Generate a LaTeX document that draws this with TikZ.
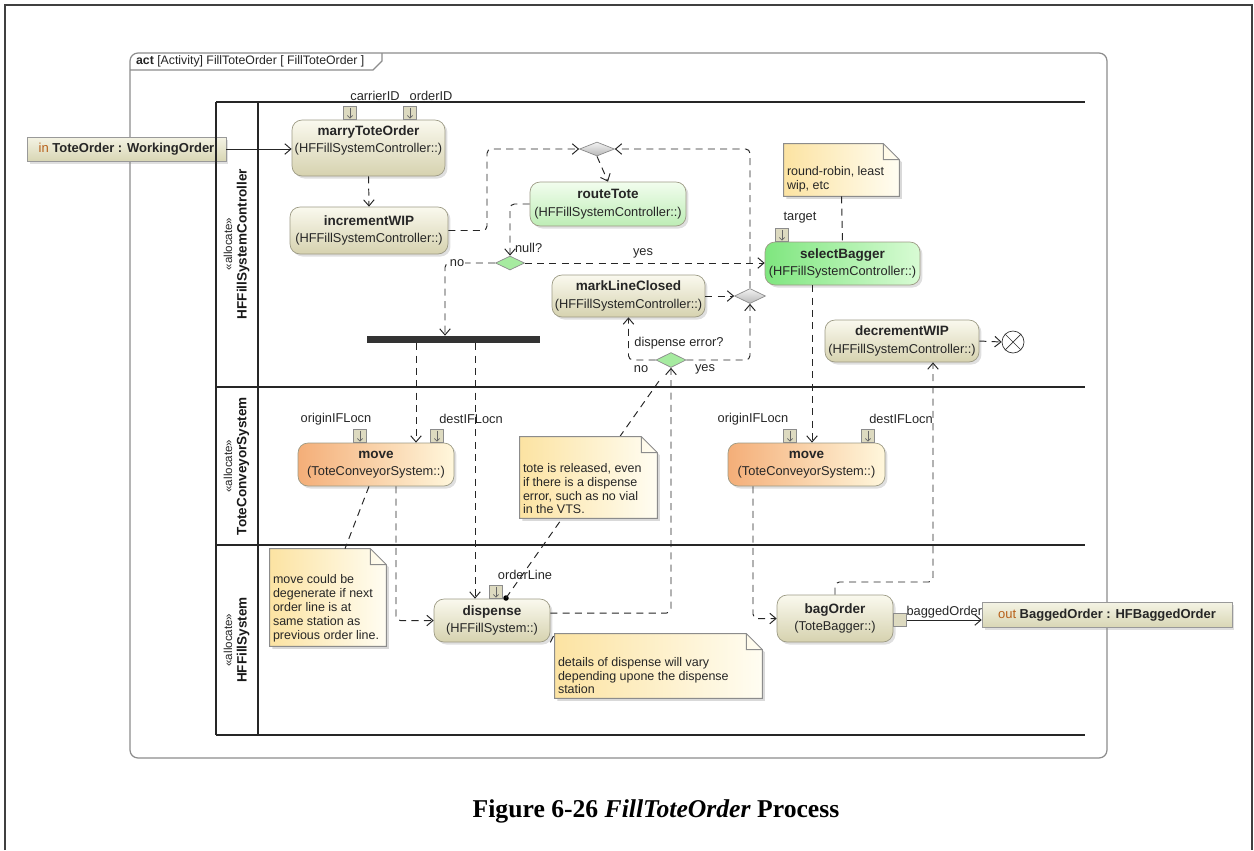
\documentclass[tikz,border=0pt]{standalone}
\usepackage{fontspec}
\setmainfont{Liberation Sans}
\newfontfamily\capfont{Liberation Serif}
\usetikzlibrary{shapes.geometric,arrows.meta,shadows}

\definecolor{actTop}{HTML}{FAF9EE}
\definecolor{actBot}{HTML}{D6D2AF}
\definecolor{actLine}{HTML}{9C9A84}
\definecolor{greenTop}{HTML}{F2FDEE}
\definecolor{greenBot}{HTML}{BDEDB5}
\definecolor{selL}{HTML}{7FE67F}
\definecolor{selR}{HTML}{D8FBD4}
\definecolor{moveL}{HTML}{F4AE78}
\definecolor{moveR}{HTML}{FFF7DC}
\definecolor{noteL}{HTML}{FCE3A2}
\definecolor{noteR}{HTML}{FFFDF2}
\definecolor{decFill}{HTML}{A6EBA0}
\definecolor{pinFill}{HTML}{DDDAC0}
\definecolor{inBrown}{HTML}{B8601A}
\definecolor{paramTop}{HTML}{F4F3E4}
\definecolor{paramBot}{HTML}{D8D6B4}

\newcommand\dfont{\fontsize{7.3}{10}\selectfont}
\newcommand\nfont{\fontsize{7.1}{7.9}\selectfont}
\newcommand\nm[1]{{\fontsize{7.7}{10}\selectfont\bfseries #1}}

\tikzset{
  action/.style={draw=actLine, rounded corners=0.2cm, align=center, inner sep=1pt,
    top color=actTop, bottom color=actBot, font=\dfont, text=black!85,
    drop shadow={shadow xshift=0.05cm, shadow yshift=-0.05cm, opacity=0.25}},
  greenact/.style={action, top color=greenTop, bottom color=greenBot},
  selact/.style={action, left color=selL, right color=selR},
  moveact/.style={action, left color=moveL, right color=moveR},
  param/.style={draw=black!40, top color=paramTop, bottom color=paramBot, inner sep=1pt,
    font=\fontsize{7.4}{9}\selectfont, text=black!85,
    drop shadow={shadow xshift=0.05cm, shadow yshift=-0.05cm, opacity=0.25}},
  ipin/.style={draw=black!45, fill=pinFill, minimum size=0.26cm, inner sep=0},
  pinarr/.style={draw=black!60, line width=0.4pt, -{Straight Barb[length=1.5pt,width=3pt]}},
  lbl/.style={font=\dfont, text=black!85, inner sep=1pt},
  decision/.style={diamond, draw=black!45, fill=decFill, minimum width=0.58cm, minimum height=0.28cm, inner sep=0},
  merge/.style={diamond, draw=black!45, top color=black!5, bottom color=black!28, minimum width=0.7cm, minimum height=0.28cm, inner sep=0},
  forkbar/.style={fill=black!80, minimum width=3.46cm, minimum height=0.14cm, inner sep=0},
  flowfinal/.style={circle, draw=black!80, fill=white, minimum size=0.44cm, inner sep=0},
  pindot/.style={circle, fill=black, minimum size=0.11cm, inner sep=0},
  memo/.style={inner sep=0},
  notetext/.style={font=\nfont, text=black!85, align=left, inner sep=0, anchor=south west},
  ctrl/.style={draw=black!85, line width=0.55pt, dash pattern=on 4pt off 3pt, rounded corners=2.5pt,
    -{Straight Barb[length=3.5pt,width=6pt]}},
  obj/.style={draw=black!85, line width=0.55pt, -{Straight Barb[length=3.5pt,width=6pt]}},
  anchorline/.style={draw=black!85, line width=0.55pt, dash pattern=on 4pt off 3pt},
  lane/.style={draw=black!85, line width=1.2pt},
  frameline/.style={draw=black!45, line width=0.7pt},
  lanetag/.style={font=\fontsize{6.6}{7}\selectfont, text=black!85, rotate=90, inner sep=0},
  lanename/.style={font=\fontsize{7.7}{9}\selectfont\bfseries, text=black!90, rotate=90, inner sep=0}
}

\newcommand\notebox[1]{%
  \fill[black!15] ([xshift=1.5pt,yshift=-1.5pt]#1.south west) -- ([xshift=1.5pt,yshift=-1.5pt]#1.north west)
    -- ([xshift=-0.32cm+1.5pt,yshift=-1.5pt]#1.north east) -- ([xshift=1.5pt,yshift=-0.32cm-1.5pt]#1.north east)
    -- ([xshift=1.5pt,yshift=-1.5pt]#1.south east) -- cycle;
  \shade[left color=noteL, right color=noteR] (#1.south west) -- (#1.north west)
    -- ([xshift=-0.32cm]#1.north east) -- ([yshift=-0.32cm]#1.north east) -- (#1.south east) -- cycle;
  \draw[black!45, line width=0.5pt] (#1.south west) -- (#1.north west)
    -- ([xshift=-0.32cm]#1.north east) -- ([yshift=-0.32cm]#1.north east) -- (#1.south east) -- cycle
    ([xshift=-0.32cm]#1.north east) |- ([yshift=-0.32cm]#1.north east);
}

\begin{document}
\begin{tikzpicture}[x=0.02cm,y=-0.02cm]
\useasboundingbox (0,0) rectangle (1254,850);
\draw[black!75, line width=1pt] (5,850) -- (5,5) -- (1252,5) -- (1252,850);

\draw[frameline, rounded corners=0.16cm] (130,53) rectangle (1107,758);
\draw[frameline] (130,70) -- (373,70) -- (382,61) -- (382,53);
\node[lbl, anchor=west, font=\fontsize{7}{9}\selectfont] (actLbl) at (134,61.5) {\textbf{act} [Activity] FillToteOrder [ FillToteOrder ]};

\node[param, minimum width=3.98cm, minimum height=0.48cm] (inTote) at (126.5,149) {{\color{inBrown}in} \textbf{ToteOrder : WorkingOrder}};

\draw[lane] (216,102) -- (1085,102);
\foreach \y in {387,545,735}
  \draw[lane] (216,\y) -- (1085,\y);
\draw[lane] (216,102) -- (216,735);
\draw[lane] (258,102) -- (258,735);

\node[lanetag] (lane1a) at (228,244) {«allocate»};
\node[lanename] (lane1b) at (243,244) {HFFillSystemController};
\node[lanetag] (lane2a) at (228,466) {«allocate»};
\node[lanename] (lane2b) at (243,466) {ToteConveyorSystem};
\node[lanetag] (lane3a) at (228,640) {«allocate»};
\node[lanename] (lane3b) at (243,640) {HFFillSystem};

\node[action, minimum width=3.06cm, minimum height=1.12cm] (marry) at (368.5,148) {\nm{marryToteOrder}\\(HFFillSystemController::)\\\mbox{}};
\node[action, minimum width=3.16cm, minimum height=0.94cm] (incWIP) at (369,230.5) {\nm{incrementWIP}\\(HFFillSystemController::)};
\node[greenact, minimum width=3.12cm, minimum height=0.88cm] (routeTote) at (608,204) {\nm{routeTote}\\(HFFillSystemController::)};
\node[action, minimum width=3.06cm, minimum height=0.84cm] (markLine) at (628.5,296) {\nm{markLineClosed}\\(HFFillSystemController::)};
\node[selact, minimum width=3.1cm, minimum height=0.86cm] (selBagger) at (842.5,263.5) {\nm{selectBagger}\\(HFFillSystemController::)};
\node[action, minimum width=3.08cm, minimum height=0.84cm] (decWIP) at (902,341) {\nm{decrementWIP}\\(HFFillSystemController::)};
\node[moveact, minimum width=3.12cm, minimum height=0.86cm] (move1) at (376,464.5) {\nm{move}\\(ToteConveyorSystem::)};
\node[moveact, minimum width=3.14cm, minimum height=0.86cm] (move2) at (806.5,464.5) {\nm{move}\\(ToteConveyorSystem::)};
\node[action, minimum width=2.32cm, minimum height=0.86cm] (dispense) at (492,620.5) {\nm{dispense}\\(HFFillSystem::)};
\node[action, minimum width=2.32cm, minimum height=0.94cm] (bagOrder) at (835,618.5) {\nm{bagOrder}\\(ToteBagger::)};

\node[ipin, anchor=south] (pCarrier) at (350,0 |- marry.north) {};
\node[ipin, anchor=south] (pOrder) at (410,0 |- marry.north) {};
\node[ipin, anchor=south] (pTarget) at (782,0 |- selBagger.north) {};
\node[ipin, anchor=south] (pOrig1) at (360,0 |- move1.north) {};
\node[ipin, anchor=south] (pDest1) at (437,0 |- move1.north) {};
\node[ipin, anchor=south] (pOrig2) at (790,0 |- move2.north) {};
\node[ipin, anchor=south] (pDest2) at (868,0 |- move2.north) {};
\node[ipin, anchor=south] (pLine) at (496,0 |- dispense.north) {};
\node[ipin, anchor=west] (pBag) at ([yshift=-0.03cm]bagOrder.east) {};
\foreach \p in {pCarrier,pOrder,pTarget,pOrig1,pDest1,pOrig2,pDest2,pLine}
  \draw[pinarr] ([yshift=-1pt]\p.north) -- ([yshift=0.6pt]\p.south);

\node[lbl] (lCarrier) at (375,96) {carrierID};
\node[lbl] (lOrder) at (431,96) {orderID};
\node[lbl] (lTarget) at (800,218) {target};
\node[lbl] (lOrig1) at (336,419) {originIFLocn};
\node[lbl] (lDest1) at (471,419) {destIFLocn};
\node[lbl] (lOrig2) at (753,419) {originIFLocn};
\node[lbl] (lDest2) at (901,419) {destIFLocn};
\node[lbl] (lLine) at (525,575) {orderLine};

\node[merge] (merge1) at (597,149) {};
\node[decision] (nullDec) at (510,263) {};
\node[merge, minimum width=0.62cm, minimum height=0.3cm] (merge2) at (750,296) {};
\node[decision, minimum width=0.6cm, minimum height=0.3cm] (errDec) at (671,360) {};
\node[forkbar] (bar) at (453.5,339.5) {};
\node[flowfinal] (final) at (1013,342) {};
\draw[black!80] (final.north west) -- (final.south east) (final.north east) -- (final.south west);
\node[pindot] (olDot) at (506,598) {};

\node[param, minimum width=5cm, minimum height=0.5cm] (outBag) at (1107,615) {{\color{inBrown}out} \textbf{BaggedOrder : HFBaggedOrder}};

\draw[anchorline] (olDot.center) -- (659,381);

\node[memo, minimum width=2.3cm, minimum height=1.04cm] (noteRR) at (841.5,170) {};
\notebox{noteRR}
\node[notetext] (noteRRtxt) at ([xshift=0.06cm,yshift=0.08cm]noteRR.south west) {round-robin, least\\wip, etc};
\node[memo, minimum width=2.32cm, minimum height=1.94cm] (noteMove) at (328,597.5) {};
\notebox{noteMove}
\node[notetext] (noteMovetxt) at ([xshift=0.06cm,yshift=0.08cm]noteMove.south west) {move could be\\degenerate if next\\order line is at\\same station as\\previous order line.};
\node[memo, minimum width=2.74cm, minimum height=1.62cm] (noteTote) at (588.5,477.5) {};
\notebox{noteTote}
\node[notetext] (noteTotetxt) at ([xshift=0.06cm,yshift=0.08cm]noteTote.south west) {tote is released, even\\if there is a dispense\\error, such as no vial\\in the VTS.};
\node[memo, minimum width=4.14cm, minimum height=1.28cm] (noteDisp) at (658.5,666) {};
\notebox{noteDisp}
\node[notetext] (noteDisptxt) at ([xshift=0.06cm,yshift=0.08cm]noteDisp.south west) {details of dispense will vary\\depending upone the dispense\\station};

\draw[obj] (inTote.east) -- (inTote.east -| marry.west);
\draw[ctrl] (marry.south) -- (incWIP.north);
\draw[ctrl] (incWIP.east) -| (487,149) -- (merge1.west);
\draw[ctrl] (merge1.south) -- (routeTote.north);
\draw[ctrl] (routeTote.west) -| (nullDec.north);
\node[lbl, anchor=west] (lNull) at (513,248) {null?};
\draw[ctrl] (nullDec.east) -- (nullDec.east -| selBagger.west);
\node[lbl] (lYes1) at (643,253) {yes};
\draw[ctrl] (nullDec.west) -| (445,0 |- bar.north);
\node[lbl, fill=white, inner sep=0.5pt] (lNo1) at (457,263) {no};
\draw[ctrl] (416,0 |- bar.south) -- (416,0 |- move1.north);
\draw[ctrl] (475,0 |- bar.south) -- (475,0 |- dispense.north);
\draw[ctrl] (396,0 |- move1.south) |- (dispense.west);
\draw[ctrl] ([yshift=0.15cm]dispense.east) -| (errDec.south);
\draw[ctrl] (errDec.west) -| (markLine.south);
\draw[ctrl] (errDec.east) -| (merge2.south);
\node[lbl] (lErr) at (679,343) {dispense error?};
\node[lbl] (lNo2) at (641,369) {no};
\node[lbl] (lYes2) at (705,369) {yes};
\draw[ctrl] (markLine.east) -- (merge2.west);
\draw[ctrl] (merge2.north) |- (merge1.east);
\draw[anchorline] (noteRR.south) -- (selBagger.north);
\draw[ctrl] (812,0 |- selBagger.south) -- (812,0 |- move2.north);
\draw[ctrl] (753,0 |- move2.south) |- (bagOrder.west);
\coordinate (bagUp) at (933,582);
\draw[ctrl] (bagOrder.north) |- (bagUp) -- (bagUp |- decWIP.south);
\draw[ctrl] (decWIP.east) -- (final.west);
\draw[obj] (pBag.east) -- (pBag.east -| outBag.west) node[lbl, midway, above] (lBagged) {baggedOrder};
\draw[anchorline] (369,0 |- move1.south) -- (345,0 |- noteMove.north);
\draw[anchorline] (dispense.south east) -- (noteDisp.north west);

\node[font=\capfont\fontsize{14.6}{16}\selectfont\bfseries] (caption) at (656,811) {Figure 6-26 \textit{FillToteOrder} Process};
\end{tikzpicture}
\end{document}
